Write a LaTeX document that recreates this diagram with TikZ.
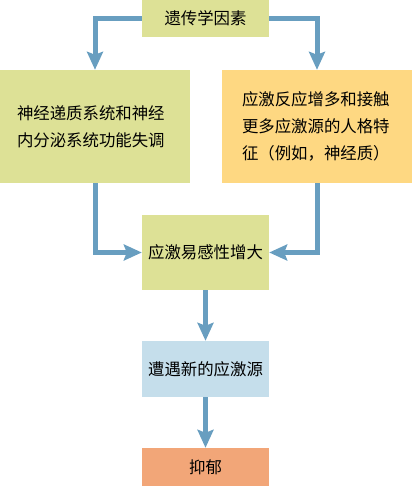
\documentclass[tikz,border=0pt]{standalone}
\usepackage{fontspec}
\setmainfont{Noto Sans CJK SC}
\usetikzlibrary{arrows.meta}
\definecolor{boxgreen}{RGB}{221,225,150}
\definecolor{boxyellow}{RGB}{254,216,130}
\definecolor{boxblue}{RGB}{197,222,235}
\definecolor{boxsalmon}{RGB}{242,166,120}
\definecolor{arrowblue}{RGB}{104,158,192}

\begin{document}
\begin{tikzpicture}[x=1pt, y=-1pt,
		every node/.style = {font=\fontsize{16.4}{27}\selectfont, inner sep=0pt},
		smallbox/.style = {minimum width=127pt},
		bigbox/.style = {minimum width=190pt, minimum height=113pt, align=left},
		flow/.style = {draw=arrowblue, line width=5pt, -{Stealth[length=18pt, width=16pt, inset=3pt]}}]
		\useasboundingbox (0,0) rectangle (412,486);
		\node[smallbox, fill=boxgreen, minimum height=37pt] (gene) at (205.5,18.5) {遗传学因素};
		\node[bigbox, fill=boxgreen, text width=156pt, inner xsep=17pt] (neuro) at (95,126.5) {神经递质系统和神经\\内分泌系统功能失调};
		\node[bigbox, fill=boxyellow, text width=150pt, inner xsep=20pt] (trait) at (317,126.5) {应激反应增多和接触\\更多应激源的人格特\\征（例如，神经质）};
		\node[smallbox, fill=boxgreen, minimum height=75pt] (suscept) at (205.5,252.5) {应激易感性增大};
		\node[smallbox, fill=boxblue, minimum height=56pt] (stress) at (205.5,369) {遭遇新的应激源};
		\node[smallbox, fill=boxsalmon, minimum height=38pt] (depress) at (205.5,467) {抑郁};
		\draw[flow] (gene.west) -| (neuro.north);
		\draw[flow] (gene.east) -| (trait.north);
		\draw[flow] (neuro.south) |- (suscept.west);
		\draw[flow] (trait.south) |- (suscept.east);
		\draw[flow] (suscept) -- (stress);
		\draw[flow] (stress) -- (depress);
	\end{tikzpicture}
\end{document}
